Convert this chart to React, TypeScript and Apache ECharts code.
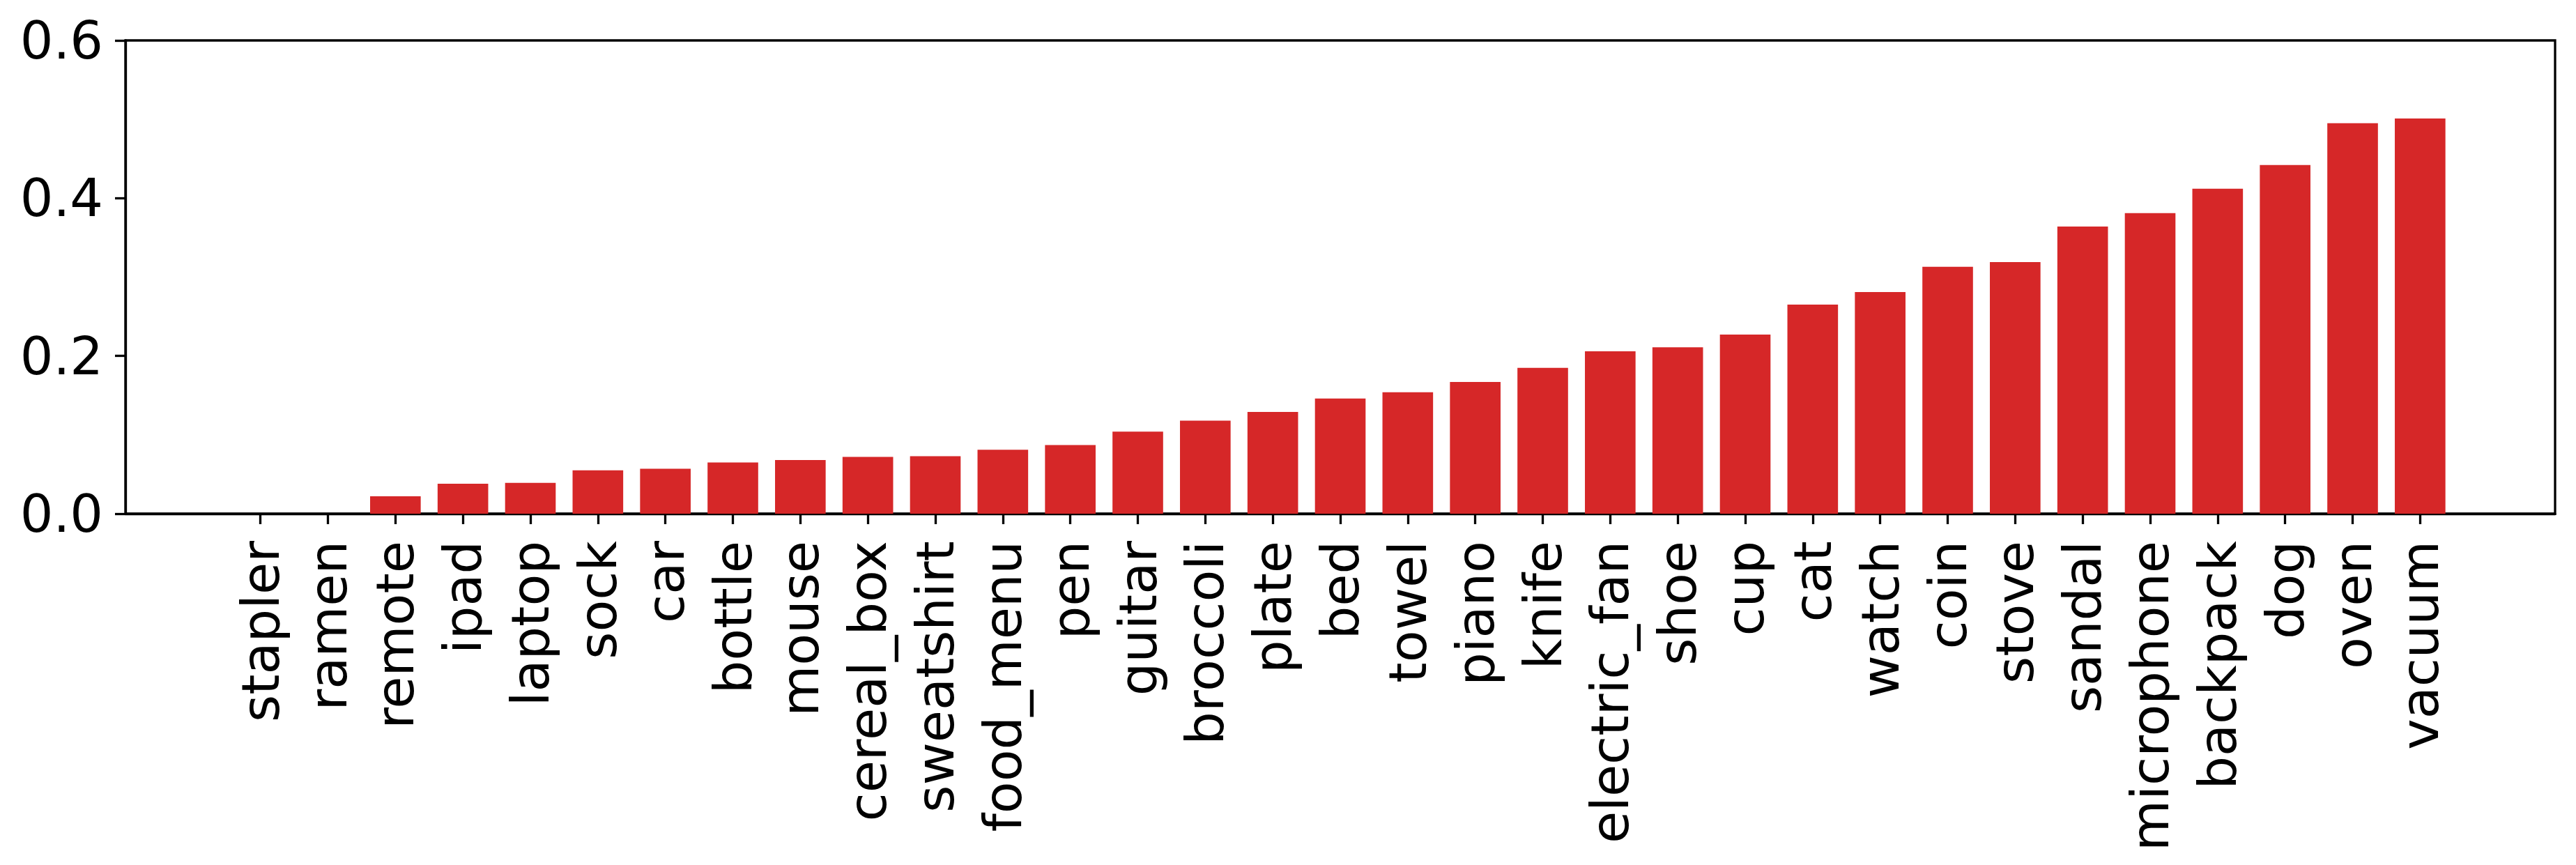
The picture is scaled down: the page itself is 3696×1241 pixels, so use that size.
import * as echarts from "echarts";
import { useEffect, useRef } from "react";

const categories = [
  "stapler", "ramen", "remote", "ipad", "laptop", "sock", "car", "bottle",
  "mouse", "cereal_box", "sweatshirt", "food_menu", "pen", "guitar", "broccoli",
  "plate", "bed", "towel", "piano", "knife", "electric_fan", "shoe", "cup",
  "cat", "watch", "coin", "stove", "sandal", "microphone", "backpack", "dog",
  "oven", "vacuum",
];

const values = [
  0, 0, 0.022, 0.038, 0.039, 0.055, 0.057, 0.065,
  0.068, 0.072, 0.073, 0.081, 0.087, 0.104, 0.118,
  0.129, 0.146, 0.154, 0.167, 0.185, 0.206, 0.211, 0.227,
  0.265, 0.281, 0.313, 0.319, 0.364, 0.381, 0.412, 0.442,
  0.495, 0.501,
];

const yTicks = [0, 0.2, 0.4, 0.6];

// matplotlib leaves two category widths empty on each side
const PAD = 2;

const FONT = "DejaVu Sans";
const RED = "#d62728";

export default function App() {
  const ref = useRef<HTMLDivElement | null>(null);

  useEffect(() => {
    const el = ref.current;
    if (el === null) return;
    const chart = echarts.init(el, null, { renderer: "svg" });

    const pad = new Array(PAD).fill("");
    const axisData = [...pad, ...categories, ...pad];
    const padVals = new Array(PAD).fill("-");
    const seriesData = [...padVals, ...values, ...padVals];
    const n = categories.length;

    chart.setOption({
      animation: false,
      grid: {
        left: 180,
        right: 30,
        top: 58,
        bottom: 504,
        show: true,
        borderColor: "#000",
        borderWidth: 3.3,
        backgroundColor: "transparent",
      },
      xAxis: {
        type: "category",
        data: axisData,
        boundaryGap: false,
        axisLine: { lineStyle: { color: "#000", width: 3.3 } },
        axisTick: {
          length: 15,
          lineStyle: { color: "#000", width: 3.3 },
          interval: (i: number) => i >= PAD && i < PAD + n,
        },
        axisLabel: {
          interval: 0,
          rotate: 90,
          margin: 39,
          color: "#000",
          fontFamily: FONT,
          fontSize: 75,
        },
        splitLine: { show: false },
      },
      yAxis: {
        type: "value",
        min: yTicks[0],
        max: yTicks[yTicks.length - 1],
        interval: 0.2,
        axisLine: { show: true, lineStyle: { color: "#000", width: 3.3 } },
        axisTick: { show: true, length: 15, lineStyle: { color: "#000", width: 3.3 } },
        axisLabel: {
          margin: 32,
          color: "#000",
          fontFamily: FONT,
          fontSize: 75,
          formatter: (v: number) => v.toFixed(1),
        },
        splitLine: { show: false },
      },
      series: [
        {
          type: "bar",
          data: seriesData,
          barWidth: "75%",
          itemStyle: { color: RED },
        },
      ],
    });

    return () => {
      chart.dispose();
    };
  }, []);

  return (
    <div
      ref={ref}
      style={{ position: "absolute", left: 0, top: 0, width: 3696, height: 1241, background: "#fff" }}
    />
  );
}
